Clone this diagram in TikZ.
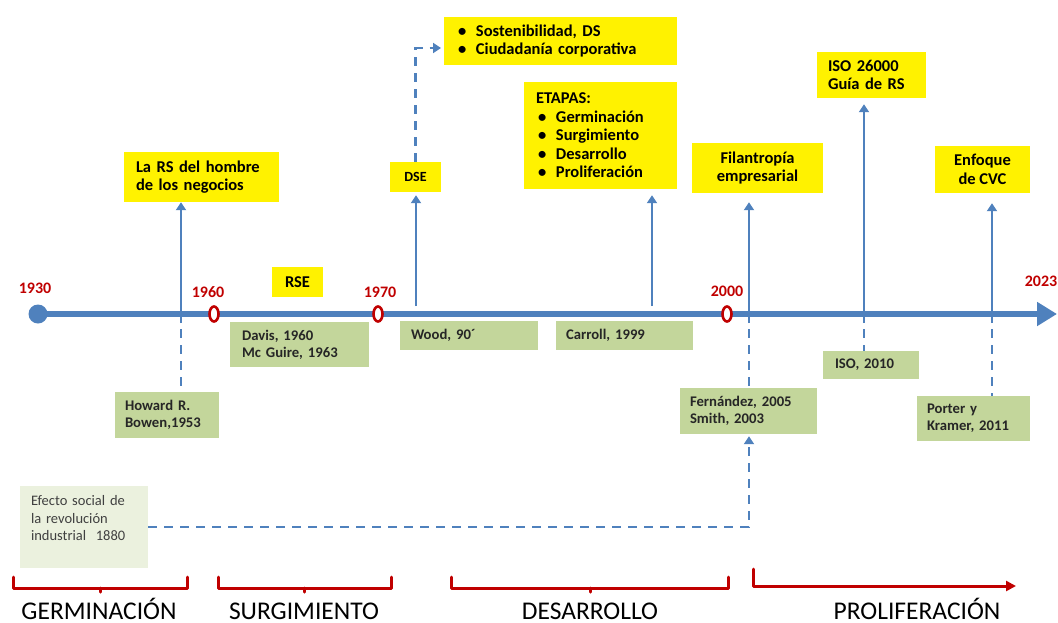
\documentclass[tikz,border=0pt]{standalone}
\usepackage{fontspec}
\setmainfont{Carlito}
\usetikzlibrary{arrows.meta,shapes.geometric}

\definecolor{lineblue}{RGB}{79,129,189}
\definecolor{boxgreen}{RGB}{195,214,155}
\definecolor{palegreen}{RGB}{235,241,222}
\definecolor{darkred}{RGB}{192,0,0}
\definecolor{textgray}{RGB}{64,64,64}

\tikzset{
  ybox/.style={fill=yellow, text=black, font=\bfseries\fontsize{16.5}{18.5}\selectfont, inner sep=0pt},
  gbox/.style={fill=boxgreen, text=black!85, font=\bfseries\fontsize{14.7}{17}\selectfont, inner sep=0pt},
  year/.style={text=darkred, font=\bfseries\fontsize{16}{18}\selectfont, inner sep=0pt},
  yearmark/.style={ellipse, draw=darkred, line width=2.6pt, fill=white, minimum width=9pt, minimum height=15pt, inner sep=0pt},
  upline/.style={draw=lineblue, line width=2.8pt, -{Triangle[length=8pt,width=10pt]}},
  dline/.style={draw=lineblue, line width=2.6pt, dash pattern=on 9pt off 7pt},
  bracket/.style={draw=darkred, line width=3pt, line join=round, line cap=round},
  stage/.style={text=black, font=\fontsize{25.5}{28}\selectfont, inner sep=0pt, anchor=base},
}
\newcommand{\bul}{\makebox[18pt][l]{\textbullet}}

\begin{document}
\begin{tikzpicture}[x=1pt,y=-1pt]
\useasboundingbox (0,0) rectangle (1058,622);

% ---- main time axis ----
\node[circle, fill=lineblue, minimum size=19pt, inner sep=0pt] (t0) at (38,314) {};
\coordinate (tend) at (1057,314);
\draw[lineblue, line width=6pt, -{Triangle[length=20pt,width=23pt]}] (t0.center) -- (tend);

\node[yearmark] (m1960) at (214,314) {};
\node[yearmark] (m1970) at (378,314) {};
\node[yearmark] (m2000) at (727,314) {};

\node[year] (y1930) at (35,288) {1930};
\node[year] (y1960) at (208,292) {1960};
\node[year] (y1970) at (380,292) {1970};
\node[year] (y2000) at (727,291) {2000};
\node[year] (y2023) at (1041,281) {2023};

% ---- boxes above the axis ----
\node[ybox, minimum width=51pt, minimum height=30pt] (rse) at (297.5,282) {RSE};
\node[ybox, minimum width=155pt, minimum height=50pt, text width=131pt, inner xsep=12pt, align=left] (lars) at (201.5,177) {La RS del hombre\\de los negocios};
\node[ybox, font=\bfseries\fontsize{14}{16}\selectfont, minimum width=51pt, minimum height=30pt] (dse) at (415.5,177) {DSE};
\node[ybox, minimum width=233pt, minimum height=48pt, text width=205pt, inner xsep=14pt, align=left] (sost) at (560.5,41) {\bul Sostenibilidad, DS\\\bul Ciudadanía corporativa};
\node[ybox, minimum width=153pt, minimum height=107pt, text width=129pt, inner xsep=12pt, align=left] (etapas) at (600.5,135.5) {ETAPAS:\\\hspace*{2pt}\bul Germinación\\\hspace*{2pt}\bul Surgimiento\\\hspace*{2pt}\bul Desarrollo\\\hspace*{2pt}\bul Proliferación};
\node[ybox, minimum width=131pt, minimum height=50pt, align=center] (fil) at (757.5,168) {Filantropía\\empresarial};
\node[ybox, minimum width=109pt, minimum height=46pt, text width=87pt, inner xsep=11pt, align=left] (iso) at (871.5,75) {ISO 26000\\Guía de RS};
\node[ybox, minimum width=95pt, minimum height=47pt, align=center] (enf) at (982.5,169.5) {Enfoque\\de CVC};

% ---- boxes below the axis ----
\node[gbox, minimum width=104pt, minimum height=46pt, text width=84pt, inner xsep=10pt, align=left] (bowen) at (167,415) {Howard R.\\Bowen,1953};
\node[gbox, minimum width=139pt, minimum height=45pt, text width=115pt, inner xsep=12pt, align=left] (davis) at (299.5,344.5) {Davis, 1960\\Mc Guire, 1963};
\node[gbox, minimum width=138pt, minimum height=29pt, text width=116pt, inner xsep=11pt, align=left] (wood) at (469,335.5) {Wood, 90´};
\node[gbox, minimum width=137pt, minimum height=29pt, text width=117pt, inner xsep=10pt, align=left] (carroll) at (624.5,335.5) {Carroll, 1999};
\node[gbox, minimum width=96pt, minimum height=28pt, text width=72pt, inner xsep=12pt, align=left] (iso10) at (871,365) {ISO, 2010};
\node[gbox, minimum width=137pt, minimum height=46pt, text width=117pt, inner xsep=10pt, align=left] (fern) at (748.5,411) {Fernández, 2005\\Smith, 2003};
\node[gbox, minimum width=113pt, minimum height=45pt, text width=93pt, inner xsep=10pt, align=left] (porter) at (973.5,418.5) {Porter y\\Kramer, 2011};
\node[fill=palegreen, text=textgray, font=\fontsize{14.5}{17.5}\selectfont, inner sep=0pt, minimum width=128pt, minimum height=82pt, text width=106pt, inner xsep=11pt, align=left] (efecto) at (84,527) {Efecto social de\\la revolución\\industrial~ 1880\\\mbox{}};

% ---- connectors ----
\coordinate (pbw) at (181,323);
\draw[upline] (pbw) -- (pbw |- lars.south);
\draw[dline, dash phase=-6pt] (pbw) -- (pbw |- bowen.north);

\coordinate (pdse) at (416,306);
\coordinate (psost) at (441,48);
\draw[upline, shorten >=3pt] (pdse) -- (pdse |- dse.south);
\draw[dline, -{Triangle[length=8pt,width=10pt]}] (dse.north) |- (psost);

\coordinate (pet) at (652,306);
\draw[upline, shorten >=6pt] (pet) -- (pet |- etapas.south);

\coordinate (pfil) at (749,323);
\draw[upline, shorten >=9pt] (pfil) -- (pfil |- fil.south);
\draw[dline, dash phase=-6pt] (pfil) -- (pfil |- fern.north);
\draw[dline, -{Triangle[length=8pt,width=10pt]}, shorten >=2pt] (efecto.east) -| (pfil |- fern.south);

\coordinate (piso) at (864,323);
\draw[upline, shorten >=6pt] (piso) -- (piso |- iso.south);
\draw[dline, dash phase=-6pt] (piso) -- (piso |- iso10.north);

\coordinate (penf) at (992,323);
\draw[upline, shorten >=10pt] (penf) -- (penf |- enf.south);
\draw[dline, dash phase=-6pt] (penf) -- (penf |- porter.north);

% ---- stage brackets ----
\draw[bracket] (13,577) -- (13,588) -- (187,588) -- (187,577) (100,588) -- (100,592);
\draw[bracket] (218,577) -- (218,588) -- (391,588) -- (391,577) (304,588) -- (304,592);
\draw[bracket] (451,577) -- (451,588) -- (728,588) -- (728,577) (590,588) -- (590,592);
\draw[bracket, -{Triangle[length=10pt,width=10pt]}] (753,569) -- (753,586) -- (1016,586);

\node[stage] (germ) at (99,619) {GERMINACIÓN};
\node[stage] (surg) at (304,619) {SURGIMIENTO};
\node[stage] (desa) at (590,619) {DESARROLLO};
\node[stage] (prol) at (917,619) {PROLIFERACIÓN};
\end{tikzpicture}
\end{document}
